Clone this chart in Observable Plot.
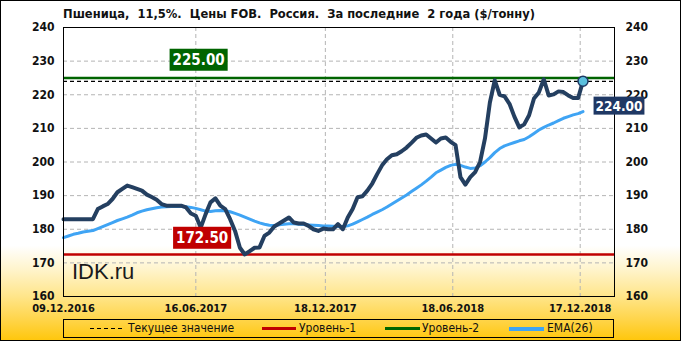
<!DOCTYPE html>
<html><head><meta charset="utf-8">
<script src="https://cdn.jsdelivr.net/npm/d3@7"></script>
<script src="https://cdn.jsdelivr.net/npm/@observablehq/plot@0.6"></script>
<style>
html,body{margin:0;padding:0;background:#fff;}
#chart{position:relative;width:681px;height:341px;box-sizing:border-box;box-shadow:inset 0 0 0 1px #000;
background:linear-gradient(to bottom,#ffffff 0%,#ffffff 72%,#FFF4CC 79%,#FFE589 87%,#FFD447 94%,#FFC60A 100%);
overflow:hidden;font-family:"DejaVu Sans Condensed","DejaVu Sans",sans-serif;font-stretch:condensed;}
#title{position:absolute;left:63px;top:6px;font-size:12.8px;line-height:16px;font-weight:bold;color:#111;white-space:pre;}
#plot{position:absolute;left:0;top:0;}
#wm{position:absolute;left:72px;top:261px;font-family:"Liberation Sans",Arial,sans-serif;font-stretch:normal;font-size:22px;line-height:22px;color:#1a1a1a;}
#legend{position:absolute;left:63px;top:319px;width:551px;height:19px;box-sizing:border-box;border:1px solid #000;}
.sw{position:absolute;}
.lt{position:absolute;top:0;font-size:12px;line-height:17px;color:#111;white-space:nowrap;}
</style></head>
<body>
<div id="chart">
  <div id="plot"></div>
  <div id="title">Пшеница,  11,5%.  Цены FOB.  Россия.  За последние  2 года ($/тонну)</div>
  <div id="wm">IDK.ru</div>
  <div id="legend"></div>
</div>
<script>
// ---- data ----
const startDate = "2016-12-09";
const price = [183,183,183,183,183,183,183,186,186.8,187.5,189,191,192,193,192.5,192,191.5,190.3,
189.6,188.8,187.5,187,187,187,187,186.5,184.7,184,
180.5,184.5,188,189.2,187,186,183,179.5,174.5,172.5,
173.5,174.5,174.6,178,179,180.8,181.7,182.6,183.5,182,
181.7,181.7,181,180,179.5,180.2,180,180,181.5,180,
183.5,186,189.5,189.8,191.5,193.6,196.4,199,200.8,202,
202.3,203.2,204.3,205.7,207.2,207.9,208.2,207,205.8,207,
207.3,206,205,195.5,193.3,195.5,197,200,207,217.7,
224.3,220,219.5,217.3,213.5,210.3,211.2,213.9,218.9,220.7,
224.6,219.8,220.1,221,220.8,219.8,219,219,224];
const ema26 = [177.5,178,178.5,178.8,179.2,179.4,179.6,180.2,180.8,181.4,
182,182.6,183.1,183.6,184.2,184.9,185.4,185.8,186.1,186.4,
186.6,186.7,186.8,186.8,186.8,186.7,186.5,186.2,185.8,185.4,
185.3,185.5,185.6,185.5,185.2,184.7,184.2,183.6,183,182.4,
181.9,181.5,181.2,181.1,181.3,181.5,181.6,181.6,181.5,181.4,
181.3,181.2,181.1,181,181,180.9,180.8,180.8,181,181.5,
182.2,182.9,183.6,184.4,185.1,185.8,186.6,187.5,188.4,189.3,
190.2,191.2,192.2,193.2,194.3,195.5,196.8,197.6,198.4,199,
199.3,199,198.5,198.1,198.2,198.9,200,201.3,202.8,204,
204.8,205.3,205.8,206.3,206.7,207.5,208.5,209.5,210.3,211,
211.6,212.3,213,213.5,214,214.4,215];
const level1 = 172.5;   // Уровень-1
const level2 = 225;     // Уровень-2
const current = 224;    // Текущее значение
const xTickDates = ["2016-12-09","2017-06-16","2017-12-18","2018-06-18","2018-12-17"];
const yTicks = [160,170,180,190,200,210,220,230,240];
const legendItems = ["Текущее значение","Уровень-1","Уровень-2","EMA(26)"];

// ---- build ----
const t0 = new Date(startDate);
const rows = price.map((p,i)=>({date:d3.utcDay.offset(t0,7*i), price:p, ema:ema26[i]}));
const last = rows[rows.length-1];
const xTicks = xTickDates.map(s=>new Date(s));
const fmt = d3.utcFormat("%d.%m.%Y");
const FONT = "DejaVu Sans Condensed, DejaVu Sans, sans-serif";

const plot = Plot.plot({
  width:681, height:320,
  marginLeft:63, marginRight:67, marginTop:27, marginBottom:24,
  style:{background:"transparent", fontFamily:FONT, color:"#111", overflow:"visible"},
  x:{type:"utc", domain:[t0, new Date("2019-02-04")]},
  y:{domain:[160,240]},
  marks:[
    Plot.gridX(xTicks,{stroke:"#b4b4b4", strokeOpacity:1, strokeDasharray:"4,3"}),
    Plot.gridY(yTicks,{stroke:"#b4b4b4", strokeOpacity:1, strokeDasharray:"4,3"}),
    Plot.ruleY([level2],{stroke:"#006400", strokeWidth:2.5}),
    Plot.ruleY([level1],{stroke:"#C00000", strokeWidth:2.5}),
    Plot.ruleY([current],{stroke:"#000", strokeWidth:1.2, strokeDasharray:"4,3"}),
    Plot.line(rows,{x:"date", y:"ema", stroke:"#3FA4F4", strokeWidth:3}),
    Plot.line(rows,{x:"date", y:"price", stroke:"#243F60", strokeWidth:4, strokeLinejoin:"round"}),
    Plot.dot([last],{x:"date", y:"price", r:5, fill:"#5BC0DE", stroke:"#1F3864", strokeWidth:1.5}),
    Plot.frame({stroke:"#000", strokeWidth:1}),
    Plot.axisX(xTicks,{tickSize:0, tickPadding:8, tickFormat:fmt, fontWeight:"bold", fontSize:11, label:null}),
    Plot.axisY(yTicks,{anchor:"left", tickSize:0, tickPadding:9, fontWeight:"bold", fontSize:12, label:null}),
    Plot.axisY(yTicks,{anchor:"right", tickSize:0, tickPadding:11, fontWeight:"bold", fontSize:12, label:null}),
    Plot.text([level2],{x:()=>new Date("2017-06-20"), y:d=>d, text:d=>d.toFixed(2), dy:-18, fill:"#fff", fontWeight:"bold", fontSize:15, fontFamily:"DejaVu Sans"}),
    Plot.text([level1],{x:()=>new Date("2017-06-25"), y:d=>d, text:d=>d.toFixed(2), dy:-16.5, fill:"#fff", fontWeight:"bold", fontSize:15, fontFamily:"DejaVu Sans"}),
    Plot.text([last],{x:"date", y:"price", text:d=>d.price.toFixed(2), dx:36, dy:25, fill:"#fff", fontWeight:"bold", fontSize:13.5, fontFamily:"DejaVu Sans"})
  ]
});
document.getElementById("plot").appendChild(plot);

// boxes behind value labels
const boxStyle = {
  [level2.toFixed(2)]: ["#006400",3,3],
  [level1.toFixed(2)]: ["#C00000",3,3],
  [last.price.toFixed(2)]: ["#1F3864",2,2]
};
plot.querySelectorAll('g[aria-label="text"] text').forEach(t=>{
  const st = boxStyle[t.textContent.trim()];
  if(!st) return;
  const [col,px,py] = st;
  const b = t.getBBox();
  const r = document.createElementNS("http://www.w3.org/2000/svg","rect");
  r.setAttribute("x", b.x-px); r.setAttribute("y", b.y-py+1);
  r.setAttribute("width", b.width+2*px); r.setAttribute("height", b.height+2*py-2);
  r.setAttribute("fill", col);
  const tr = t.getAttribute("transform"); if(tr) r.setAttribute("transform", tr);
  t.parentNode.insertBefore(r, t);
});

// legend
const leg = document.getElementById("legend");
const sw = [
  {x:26, w:33, h:1, css:"background:repeating-linear-gradient(to right,#000 0 4px,transparent 4px 7px);", tx:64},
  {x:198, w:34, h:3, css:"background:#C00000;", tx:235},
  {x:321, w:35, h:3, css:"background:#006400;", tx:358},
  {x:445, w:35, h:4, css:"background:#3FA4F4;", tx:483}
];
legendItems.forEach((name,i)=>{
  const s = sw[i];
  const d = document.createElement("div");
  d.className="sw"; d.style.cssText = `left:${s.x}px;width:${s.w}px;height:${s.h}px;top:${8.5-s.h/2}px;${s.css}`;
  leg.appendChild(d);
  const t = document.createElement("div");
  t.className="lt"; t.style.left = s.tx+"px"; t.textContent = name;
  leg.appendChild(t);
});
</script>
</body></html>
